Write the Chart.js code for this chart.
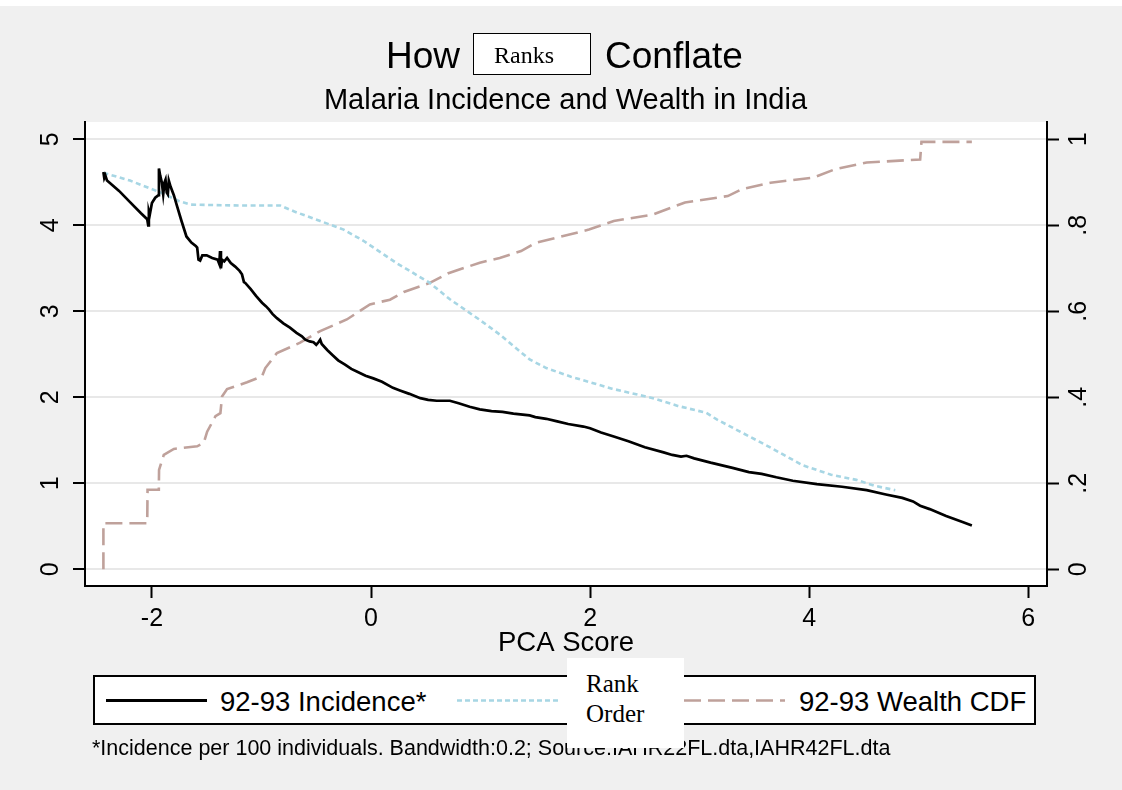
<!DOCTYPE html>
<html>
<head>
<meta charset="utf-8">
<script src="https://cdn.jsdelivr.net/npm/chart.js@4.4.1/dist/chart.umd.min.js"></script>
<style>
  html, body { margin:0; padding:0; }
  body { width:1122px; height:790px; background:#f0f0f0; position:relative; overflow:hidden;
         font-family:"Liberation Sans", Arial, Helvetica, sans-serif; color:#000; }
  .abs { position:absolute; white-space:nowrap; line-height:1; }
  .serif { font-family:"Liberation Serif", "Times New Roman", serif; }
  #topstrip { position:absolute; left:0; top:0; width:1122px; height:6px; background:#fff; }
  #c { position:absolute; left:0; top:0; }
</style>
</head>
<body>
<div id="topstrip"></div>
<canvas id="c" width="1122" height="790"></canvas>

<div class="abs" style="left:386px; top:36.7px; font-size:37px;">How</div>
<div class="abs" style="left:605px; top:36.7px; font-size:37px;">Conflate</div>
<div class="abs" style="left:473px; top:33px; width:118px; height:42px; box-sizing:border-box; border:1px solid #000; background:#fff;"></div>
<div class="abs serif" style="left:494px; top:43.2px; font-size:24px;">Ranks</div>

<div class="abs" style="left:0; top:84.5px; width:1131px; text-align:center; font-size:29px;">Malaria Incidence and Wealth in India</div>

<div class="abs" style="left:93px; top:675px; width:943px; height:50px; box-sizing:border-box; border:2px solid #000; background:#fff;"></div>
<svg class="abs" style="left:0; top:0;" width="1122" height="790">
  <line x1="106" y1="700.5" x2="207" y2="700.5" stroke="#000" stroke-width="2.8"/>
  <line x1="457" y1="700.5" x2="558" y2="700.5" stroke="#a7d6e4" stroke-width="2.6" stroke-dasharray="5 3"/>
  <line x1="684" y1="700.5" x2="785" y2="700.5" stroke="#bfa19b" stroke-width="2.6" stroke-dasharray="17 7"/>
</svg>
<div class="abs" style="left:220px; top:688.4px; font-size:27.5px;">92-93 Incidence*</div>
<div class="abs" style="left:799px; top:688.4px; font-size:27.5px;">92-93 Wealth CDF</div>

<div class="abs" style="left:92px; top:737.8px; font-size:21.5px;">*Incidence per 100 individuals. Bandwidth:0.2; Source:IAHR22FL.dta,IAHR42FL.dta</div>

<div class="abs" style="left:566.5px; top:658px; width:117.5px; height:90px; background:#fff;"></div>
<div class="abs serif" style="left:586px; top:671.1px; font-size:25px;">Rank</div>
<div class="abs serif" style="left:586px; top:701.1px; font-size:25px;">Order</div>

<script>
// ---- data ----
const xTicks = [-2, 0, 2, 4, 6];
const xLabels = ['-2', '0', '2', '4', '6'];
const yTicks = [0, 1, 2, 3, 4, 5];
const yLabels = ['0', '1', '2', '3', '4', '5'];
const y1Ticks = [0, 0.2, 0.4, 0.6, 0.8, 1];
const y1Labels = ['0', '.2', '.4', '.6', '.8', '1'];

const seriesNames = ['92-93 Incidence*', 'Rank Order', '92-93 Wealth CDF'];

// 92-93 Incidence* (left axis)
const incX = [-2.443,-2.435,-2.425,-2.41,-2.30,-2.20,-2.10,-2.043,-2.034,-2.028,-2.02,-2.00,-1.97,-1.94,-1.936,-1.925,-1.91,-1.897,-1.885,-1.876,-1.865,-1.855,-1.846,-1.83,-1.80,-1.77,-1.73,-1.685,-1.64,-1.60,-1.587,-1.575,-1.56,-1.54,-1.50,-1.45,-1.40,-1.385,-1.378,-1.37,-1.36,-1.34,-1.314,-1.28,-1.24,-1.20,-1.178,-1.16,-1.148,-1.10,-1.05,-0.995,-0.96,-0.93,-0.90,-0.859,-0.80,-0.74,-0.68,-0.631,-0.60,-0.56,-0.525,-0.50,-0.48,-0.464,-0.45,-0.40,-0.35,-0.30,-0.237,-0.18,-0.13,-0.05,0.021,0.10,0.20,0.264,0.35,0.45,0.522,0.60,0.72,0.80,0.90,0.993,1.10,1.20,1.30,1.448,1.50,1.60,1.70,1.80,1.939,2.00,2.10,2.216,2.35,2.50,2.671,2.75,2.83,2.88,2.95,3.10,3.30,3.45,3.566,3.70,3.85,4.07,4.30,4.525,4.70,4.85,4.948,5.013,5.10,5.25,5.40,5.485];
const incY = [4.62,4.55,4.58,4.52,4.40,4.27,4.14,4.07,4.00,4.16,4.12,4.26,4.32,4.35,4.66,4.58,4.50,4.36,4.50,4.53,4.38,4.36,4.52,4.45,4.35,4.22,4.05,3.87,3.80,3.76,3.74,3.60,3.59,3.65,3.65,3.62,3.60,3.55,3.70,3.50,3.60,3.58,3.62,3.56,3.52,3.47,3.43,3.34,3.33,3.26,3.18,3.10,3.06,3.02,2.97,2.92,2.86,2.81,2.75,2.71,2.67,2.65,2.64,2.61,2.64,2.67,2.62,2.55,2.49,2.43,2.38,2.33,2.30,2.25,2.22,2.18,2.11,2.08,2.04,1.99,1.97,1.96,1.96,1.93,1.89,1.86,1.84,1.83,1.81,1.79,1.77,1.75,1.72,1.69,1.66,1.64,1.59,1.545,1.49,1.42,1.36,1.33,1.31,1.32,1.29,1.24,1.18,1.13,1.11,1.07,1.03,0.99,0.96,0.92,0.87,0.83,0.79,0.74,0.70,0.62,0.55,0.51];

// Rank Order (left axis)
const rankX = [-2.443,-2.20,-1.92,-1.75,-1.648,-1.20,-0.829,-0.70,-0.464,-0.25,-0.07,0.234,0.537,0.72,0.993,1.175,1.448,1.60,1.825,2.20,2.574,2.80,3.06,3.16,3.40,3.597,3.94,4.20,4.43,4.60,4.786];
const rankY = [4.61,4.52,4.38,4.28,4.24,4.23,4.23,4.16,4.05,3.95,3.82,3.56,3.33,3.14,2.90,2.73,2.44,2.34,2.24,2.10,1.99,1.90,1.82,1.74,1.58,1.45,1.21,1.10,1.04,0.97,0.92];

// 92-93 Wealth CDF (right axis)
const cdfX = [-2.443,-2.443,-2.043,-2.040,-1.937,-1.935,-1.892,-1.80,-1.587,-1.527,-1.496,-1.42,-1.375,-1.36,-1.314,-1.132,-0.995,-0.965,-0.859,-0.647,-0.464,-0.221,-0.01,0.173,0.30,0.537,0.70,0.993,1.175,1.37,1.50,1.99,2.216,2.574,2.866,3.257,3.387,3.647,4.037,4.232,4.525,5.013,5.025,5.485];
const cdfY = [0,0.107,0.107,0.185,0.185,0.231,0.266,0.28,0.286,0.294,0.32,0.356,0.363,0.402,0.419,0.435,0.449,0.468,0.503,0.527,0.554,0.581,0.616,0.627,0.645,0.666,0.688,0.713,0.724,0.74,0.759,0.79,0.81,0.825,0.853,0.868,0.884,0.899,0.911,0.930,0.946,0.953,0.994,0.994];

// ---- chart ----
const FONT = '"Liberation Sans", Arial, Helvetica, sans-serif';
Chart.defaults.font.family = FONT;
Chart.defaults.color = '#000';

const pts = (xs, ys) => xs.map((x, i) => ({ x: x, y: ys[i] }));

const plotBg = {
  id: 'plotBg',
  beforeDraw(chart) {
    const a = chart.chartArea, ctx = chart.ctx;
    ctx.save();
    ctx.fillStyle = '#ffffff';
    ctx.fillRect(a.left, a.top, a.right - a.left, a.bottom - a.top);
    ctx.restore();
  }
};

const yTickLabels = {
  id: 'yTickLabels',
  afterDraw(chart) {
    const ctx = chart.ctx, a = chart.chartArea;
    const specs = [
      { id: 'y', vals: yTicks, labels: yLabels, x: a.left - 34.3 },
      { id: 'y1', vals: y1Ticks, labels: y1Labels, x: a.right + 32.5 }
    ];
    ctx.save();
    ctx.font = '25px ' + FONT;
    ctx.fillStyle = '#000';
    ctx.textAlign = 'center';
    ctx.textBaseline = 'middle';
    specs.forEach(s => {
      const sc = chart.scales[s.id];
      s.vals.forEach((v, i) => {
        const py = sc.getPixelForValue(v);
        ctx.save();
        ctx.translate(s.x, py);
        ctx.rotate(-Math.PI / 2);
        ctx.fillText(s.labels[i], 0, 0);
        ctx.restore();
      });
    });
    ctx.restore();
  }
};

const setTicks = vals => scale => { scale.ticks = vals.map(v => ({ value: v })); };

new Chart(document.getElementById('c'), {
  type: 'line',
  data: {
    datasets: [
      { label: seriesNames[0], data: pts(incX, incY), yAxisID: 'y',
        borderColor: '#000000', borderWidth: 2.7, pointRadius: 0, tension: 0, fill: false },
      { label: seriesNames[1], data: pts(rankX, rankY), yAxisID: 'y',
        borderColor: '#a7d6e4', borderWidth: 2.6, borderDash: [5, 3.5], pointRadius: 0, tension: 0, fill: false },
      { label: seriesNames[2], data: pts(cdfX, cdfY), yAxisID: 'y1',
        borderColor: '#bfa19b', borderWidth: 2.6, borderDash: [17, 7], pointRadius: 0, tension: 0, fill: false }
    ]
  },
  options: {
    responsive: false,
    animation: false,
    events: [],
    layout: { padding: { top: 122, left: 0, right: 0, bottom: 100 } },
    plugins: { legend: { display: false }, tooltip: { enabled: false }, title: { display: false } },
    scales: {
      x: {
        type: 'linear', position: 'bottom',
        min: -2.611, max: 6.171,
        afterBuildTicks: setTicks(xTicks),
        afterFit: s => { s.height = 104; },
        ticks: {
          autoSkip: false, maxRotation: 0, minRotation: 0, padding: 6,
          font: { size: 25 }, color: '#000',
          callback: v => { const i = xTicks.indexOf(v); return i >= 0 ? xLabels[i] : ''; }
        },
        grid: { drawOnChartArea: false, drawTicks: true, tickLength: 12, tickColor: '#000', tickWidth: 2 },
        border: { display: true, color: '#000', width: 2 },
        title: { display: true, text: 'PCA Score', font: { size: 27.5 }, color: '#000', padding: { top: 0, bottom: 30 } }
      },
      y: {
        type: 'linear', position: 'left',
        min: -0.194, max: 5.201,
        afterBuildTicks: setTicks(yTicks),
        afterFit: s => { s.width = 85; },
        ticks: { display: false },
        grid: { drawOnChartArea: true, color: '#e8e8e8', lineWidth: 2, drawTicks: true, tickLength: 12, tickColor: '#000', tickWidth: 2 },
        border: { display: true, color: '#000', width: 2 }
      },
      y1: {
        type: 'linear', position: 'right',
        min: -0.0388, max: 1.0402,
        afterBuildTicks: setTicks(y1Ticks),
        afterFit: s => { s.width = 75; },
        ticks: { display: false },
        grid: { drawOnChartArea: false, drawTicks: true, tickLength: 12, tickColor: '#000', tickWidth: 2 },
        border: { display: true, color: '#000', width: 2 }
      }
    }
  },
  plugins: [plotBg, yTickLabels]
});
</script>
</body>
</html>
